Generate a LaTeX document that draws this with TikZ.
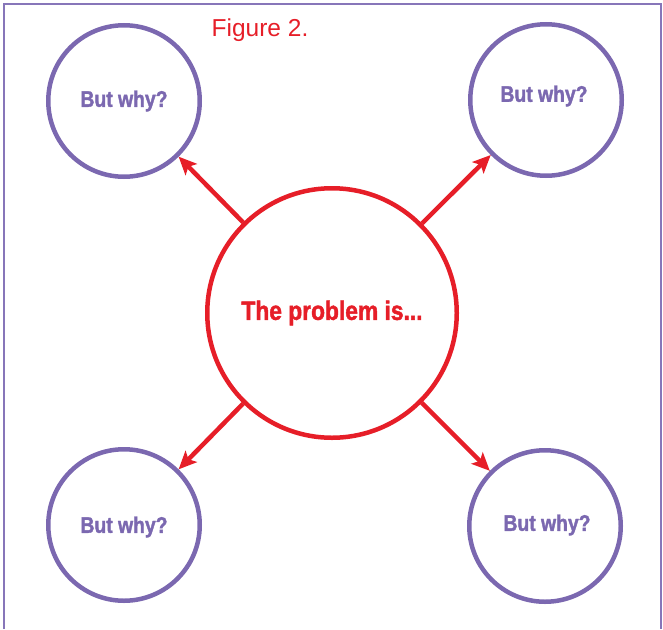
\documentclass[tikz,border=0pt]{standalone}
\usepackage{fontspec}
\setmainfont{Liberation Sans}
\newfontfamily\condfont[FakeStretch=0.86,BoldFeatures={FakeBold=1.6}]{Liberation Sans}
\usetikzlibrary{arrows.meta}
\definecolor{cpurple}{RGB}{123,104,176}
\definecolor{cborder}{RGB}{135,118,185}
\definecolor{cred}{RGB}{230,30,40}
\begin{document}
\begin{tikzpicture}[x=1pt,y=-1pt,
  why/.style={circle,draw=cpurple,line width=4.5pt,minimum size=151.5pt,inner sep=0pt},
  whytext/.style={text=cpurple,font=\condfont\bfseries\fontsize{22.5}{26}\selectfont},
  prob/.style={circle,draw=cred,line width=4.5pt,minimum size=249.5pt,inner sep=0pt,
    text=cred,font=\condfont\bfseries\fontsize{26.5}{30}\selectfont},
  arr/.style={draw=cred,line width=4.5pt,-{Stealth[length=18pt,width=16pt,inset=4pt]}}]
\useasboundingbox (0,0) rectangle (663,629);
\draw[cborder,line width=2pt] (4,629) -- (4,4) -- (661,4) -- (661,629);
\node[text=cred,font=\fontsize{24.5}{28}\selectfont,anchor=base] (fig) at (260,36) {Figure 2.};
\node[prob] (c) at (332,313) {The problem is...};
\node[why] (tl) at (124,101) {};
\node[why] (tr) at (546,100) {};
\node[why] (bl) at (124,525) {};
\node[why] (br) at (545,526) {};
\node[whytext] (tlt) at (124,101) {But why?};
\node[whytext] (trt) at (544,96) {But why?};
\node[whytext] (blt) at (124,527) {But why?};
\node[whytext] (brt) at (547,525) {But why?};
\draw[arr] (c) -- (tl);
\draw[arr] (c) -- (tr);
\draw[arr] (c) -- (bl);
\draw[arr] (c) -- (br);
\end{tikzpicture}
\end{document}
